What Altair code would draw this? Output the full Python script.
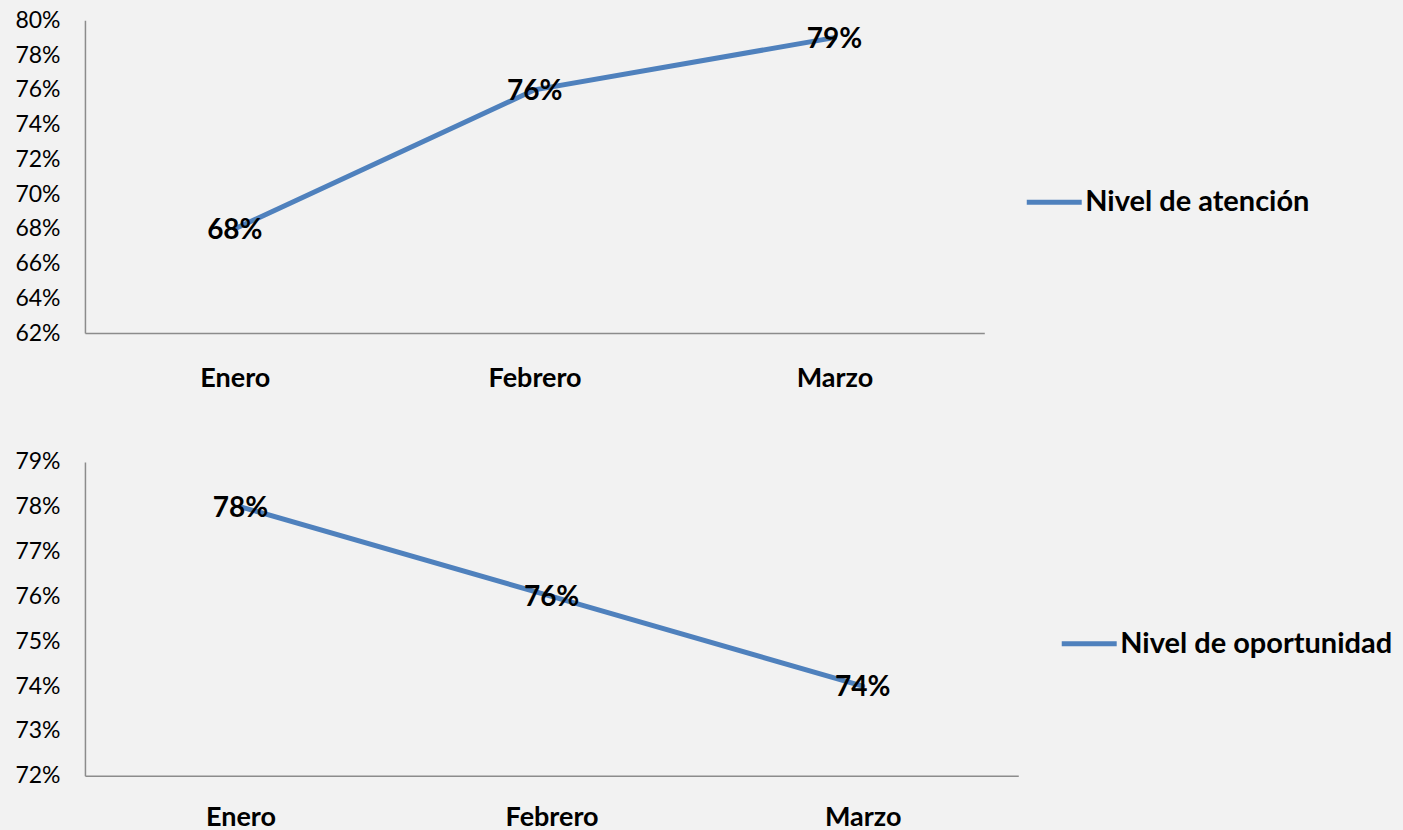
import altair as alt
import pandas as pd

meses = ["Enero", "Febrero", "Marzo"]
atencion = [0.68, 0.76, 0.79]
oportunidad = [0.78, 0.76, 0.74]
serie_top = "Nivel de atención"
serie_bot = "Nivel de oportunidad"
ticks_top = [0.62, 0.64, 0.66, 0.68, 0.70, 0.72, 0.74, 0.76, 0.78, 0.80]
ticks_bot = [0.72, 0.73, 0.74, 0.75, 0.76, 0.77, 0.78, 0.79]

BLUE = "#4F81BD"
FONT = "Lato"

df_top = pd.DataFrame({"mes": meses, "valor": atencion, "serie": serie_top})
df_bot = pd.DataFrame({"mes": meses, "valor": oportunidad, "serie": serie_bot})


def panel(df, serie, domain, ticks, width, height, legend_x, legend_y, ylabel_pad, xlabel_pad):
    x = alt.X("mes:N", sort=meses, title=None,
              scale=alt.Scale(type="point", padding=0.5),
              axis=alt.Axis(labelAngle=0, labelFontWeight="bold", labelFontSize=27,
                            labelPadding=xlabel_pad, ticks=False, tickSize=0))
    y = alt.Y("valor:Q", title=None,
              scale=alt.Scale(domain=domain, nice=False, zero=False),
              axis=alt.Axis(values=ticks, tickCount=len(ticks), format=".0%",
                            labelFontSize=23, labelOverlap=False, labelFlush=False,
                            labelPadding=ylabel_pad, ticks=False, tickSize=0, grid=False))
    color = alt.Color("serie:N", title=None,
                      scale=alt.Scale(domain=[serie], range=[BLUE]),
                      legend=alt.Legend(orient="none", legendX=legend_x, legendY=legend_y,
                                        symbolType="stroke", symbolSize=3025,
                                        symbolStrokeWidth=5, labelFont=FONT,
                                        labelFontSize=29, labelFontWeight="bold",
                                        labelColor="black", labelLimit=500,
                                        labelOffset=1))
    line = alt.Chart(df).mark_line(strokeWidth=5, strokeCap="round").encode(
        x=x, y=y, color=color)
    text = alt.Chart(df).mark_text(font=FONT, fontSize=28, fontWeight="bold",
                                   color="black", align="center", baseline="middle",
                                   dy=2).encode(
        x=alt.X("mes:N", sort=meses), y="valor:Q",
        text=alt.Text("valor:Q", format=".0%"))
    return alt.layer(line, text).properties(width=width, height=height)


top = panel(df_top, serie_top, [0.62, 0.80], ticks_top, 900, 313, 940, 152, 25, 32)
bot = panel(df_bot, serie_bot, [0.72, 0.79], ticks_bot, 934, 314, 975, 152, 25, 29)

chart = alt.vconcat(top, bot, spacing=60).properties(
    background="#F2F2F2",
    padding={"left": 14, "top": 9, "right": 10, "bottom": 0},
).configure_view(stroke=None).configure_axis(
    labelFont=FONT, labelColor="black", domainColor="#8C8C8C", domainWidth=1.5
).resolve_scale(color="independent")

chart.save("out.html", embed_options={"renderer": "svg", "actions": False})
